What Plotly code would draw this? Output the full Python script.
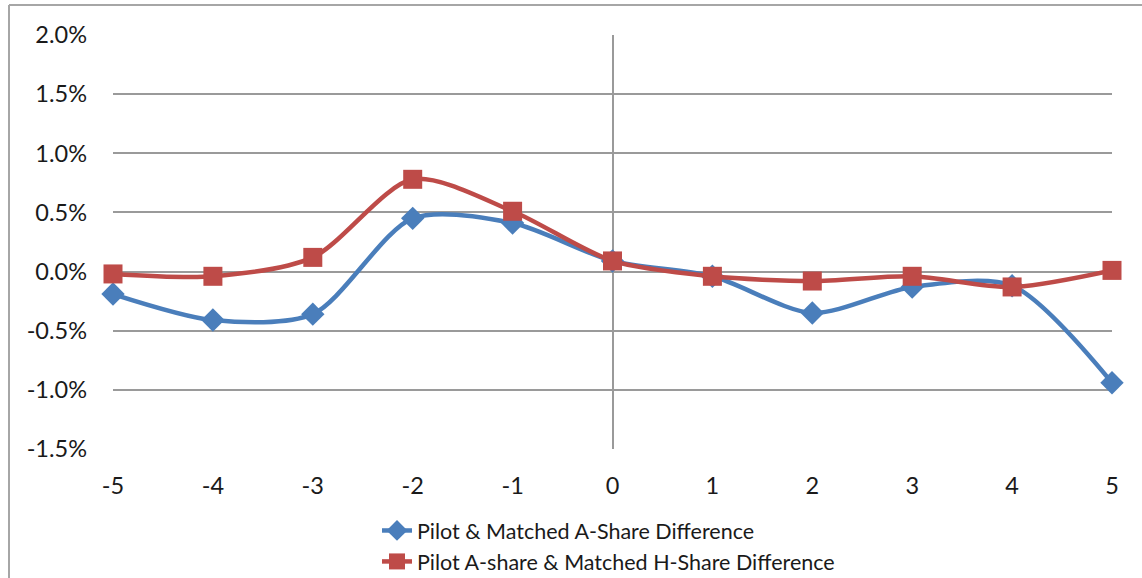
import plotly.graph_objects as go

x_days = [-5, -4, -3, -2, -1, 0, 1, 2, 3, 4, 5]
x_labels = ["-5", "-4", "-3", "-2", "-1", "0", "1", "2", "3", "4", "5"]
a_share_diff = [-0.0019, -0.0041, -0.0036, 0.0045, 0.0041, 0.0009, -0.0004, -0.0035, -0.0013, -0.0012, -0.0094]
h_share_diff = [-0.0002, -0.0004, 0.0012, 0.0078, 0.0051, 0.0009, -0.0004, -0.0008, -0.0004, -0.0013, 0.0001]
series_names = ["Pilot & Matched A-Share Difference", "Pilot A-share & Matched H-Share Difference"]
y_ticks = [-0.015, -0.01, -0.005, 0.0, 0.005, 0.01, 0.015, 0.02]
y_labels = ["-1.5%", "-1.0%", "-0.5%", "0.0%", "0.5%", "1.0%", "1.5%", "2.0%"]

BLUE = "#4A7EBB"
RED = "#BE4B48"
FONT = "Lato"
TXT = "#1a1a1a"

fig = go.Figure()
fig.add_trace(go.Scatter(
    x=x_days, y=a_share_diff, name=series_names[0], mode="lines+markers",
    line=dict(color=BLUE, width=4.5, shape="spline", smoothing=0.8),
    marker=dict(symbol="diamond", size=18, color=BLUE),
    cliponaxis=False,
))
fig.add_trace(go.Scatter(
    x=x_days, y=h_share_diff, name=series_names[1], mode="lines+markers",
    line=dict(color=RED, width=4.5, shape="spline", smoothing=0.8),
    marker=dict(symbol="square", size=19, color=RED),
    cliponaxis=False,
))

L, R, T, B = 113, 30, 35, 129
W, H = 1142, 578
pw, ph = W - L - R, H - T - B

fig.update_layout(
    width=W, height=H,
    margin=dict(l=L, r=R, t=T, b=B, autoexpand=False),
    plot_bgcolor="white", paper_bgcolor="white",
    font=dict(family=FONT, size=22, color=TXT),
    showlegend=True,
    legend=dict(
        orientation="v", x=(377 - L) / pw, xanchor="left",
        y=-(510 - T - ph) / ph, yanchor="top",
        font=dict(family=FONT, size=21.5, color=TXT),
        bgcolor="rgba(0,0,0,0)", itemwidth=30, tracegroupgap=0,
    ),
    xaxis=dict(
        range=[-5, 5], tickvals=x_days, ticktext=x_labels, showgrid=False,
        zeroline=True, zerolinecolor="#9A9A9A", zerolinewidth=2,
        showline=False, ticks="", ticklabelstandoff=20,
        tickfont=dict(family=FONT, size=23.5, color=TXT),
    ),
    yaxis=dict(
        range=[-0.015, 0.02], tickvals=y_ticks, ticktext=y_labels,
        showgrid=True, gridcolor="#9A9A9A", gridwidth=2,
        zeroline=False, showline=False, ticks="", ticklabelstandoff=25,
        tickfont=dict(family=FONT, size=23.5, color=TXT),
    ),
    shapes=[
        dict(type="line", xref="paper", yref="paper",
             x0=(9 - L) / pw, x1=(9 - L) / pw, y0=1 + (T - 5) / ph, y1=-(H - T - ph + 5) / ph,
             line=dict(color="#A6A6A6", width=2)),
        dict(type="line", xref="paper", yref="paper",
             x0=(9 - L) / pw, x1=(W + 5 - L) / pw, y0=1 + (T - 5) / ph, y1=1 + (T - 5) / ph,
             line=dict(color="#A6A6A6", width=2)),
    ],
)

fig.write_html(
    "out.html",
    config={"displayModeBar": False},
    post_script="document.body.style.margin='0';document.body.style.overflow='hidden';",
)
